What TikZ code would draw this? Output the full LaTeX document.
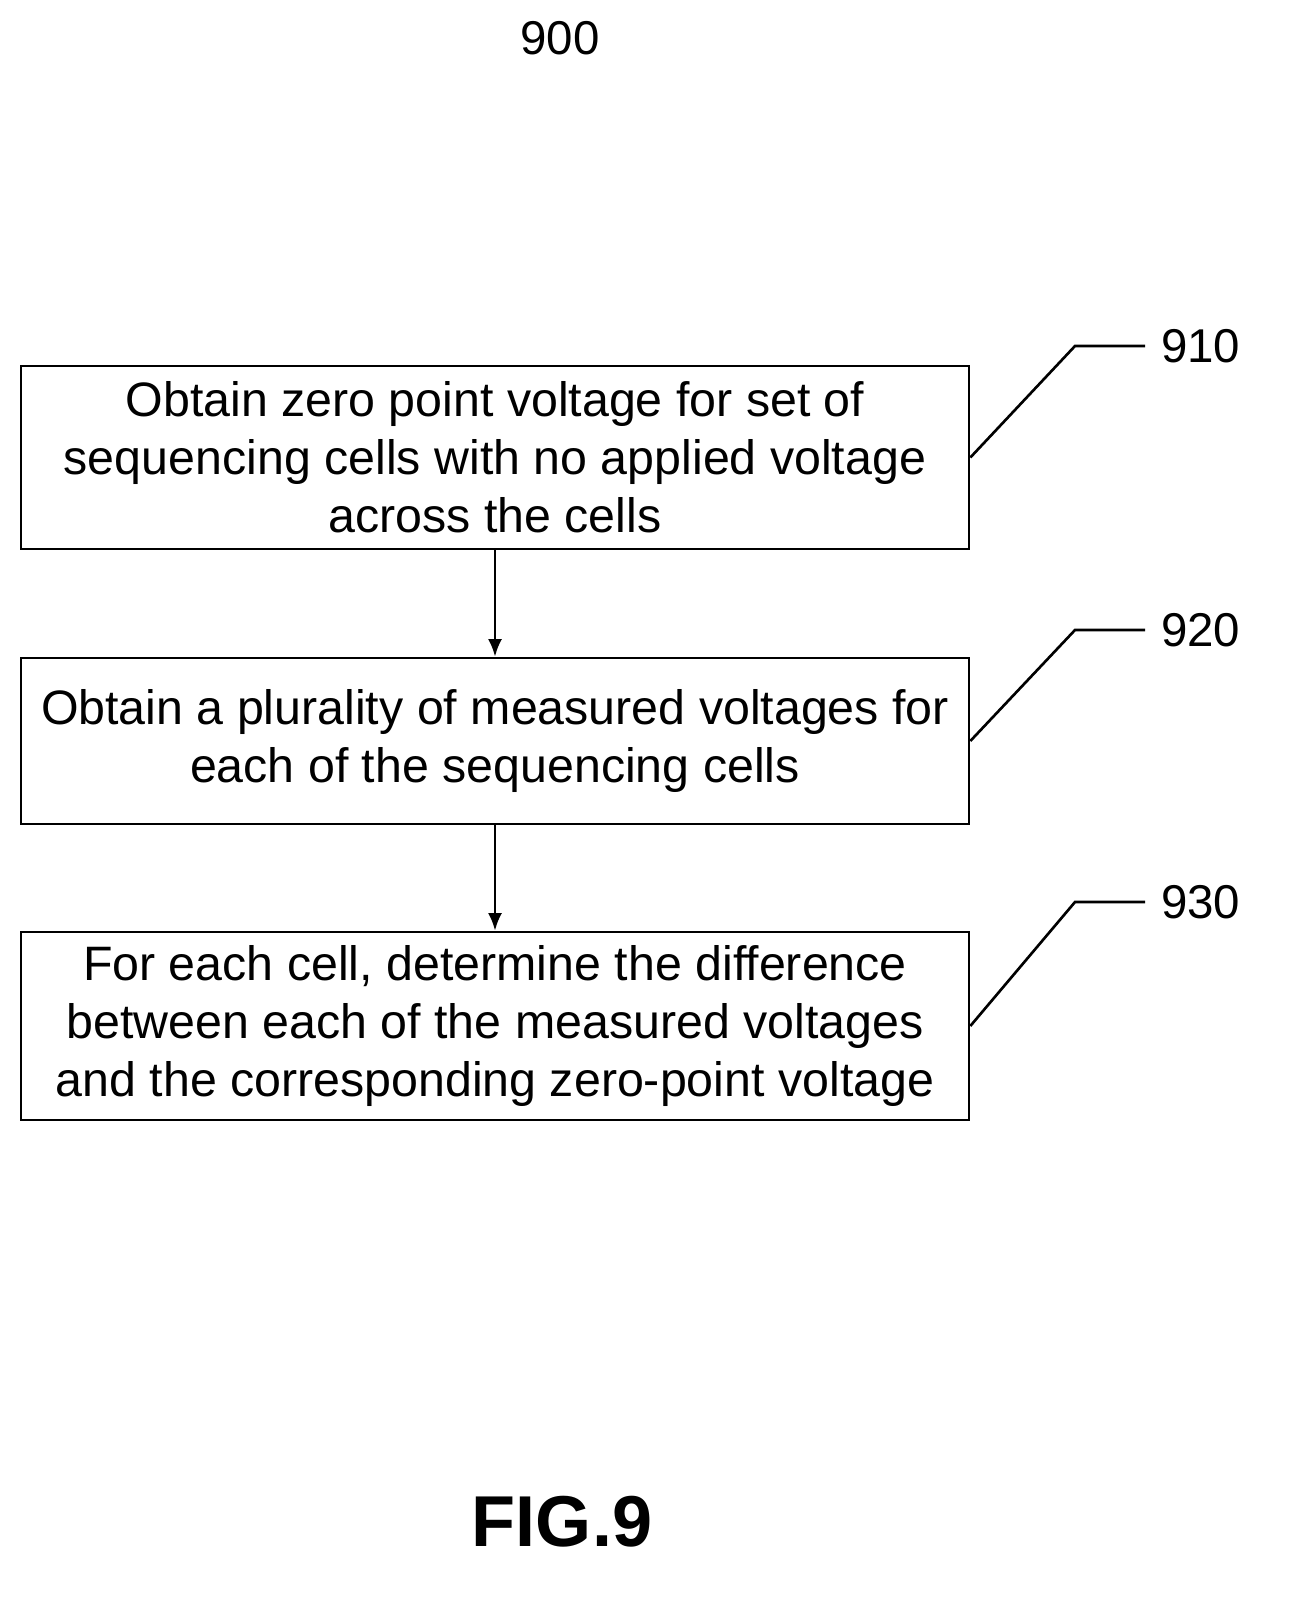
\documentclass[tikz,border=0pt]{standalone}
\usepackage{fontspec}
\setmainfont{Liberation Sans}
\usetikzlibrary{arrows.meta}
\usetikzlibrary{positioning}
\tikzset{>={Latex[length=10pt,width=8pt]}}
\tikzstyle{stepbox} = [rectangle, draw=black, line width=1.5pt, minimum width=18.96cm, align=center, font=\fontsize{27.5}{33}\selectfont, inner sep=0pt]
\tikzstyle{lead} = [-, line width=1.5pt]
\tikzstyle{ref} = [font=\fontsize{27}{32}\selectfont]
\begin{document}
\begin{tikzpicture}
\useasboundingbox (0,0) rectangle (26.04,-32.4);
\node [ref] (N900) at (11.2,-0.76) {900};
\node [stepbox, minimum height=3.66cm] (S1) at (9.9,-9.15) {Obtain zero point voltage for set of\\sequencing cells with no applied voltage\\across the cells};
\node [stepbox, minimum height=3.32cm] (S2) at (9.9,-14.82) {Obtain a plurality of measured voltages for\\each of the sequencing cells};
\node [stepbox, minimum height=3.76cm] (S3) at (9.9,-20.52) {For each cell, determine the difference\\between each of the measured voltages\\and the corresponding zero-point voltage};
\draw [->, line width=1.5pt] (S1) to (S2);
\draw [->, line width=1.5pt] (S2) to (S3);
% reference labels
\coordinate (K1) at (21.5,-6.92);
\coordinate (E1) at (22.9,-6.92);
\node [ref, anchor=west] (R1) at (23.1,-6.92) {910};
\draw [lead] (S1.east) -- (K1) -- (E1);
\coordinate (K2) at (21.5,-12.6);
\coordinate (E2) at (22.9,-12.6);
\node [ref, anchor=west] (R2) at (23.1,-12.6) {920};
\draw [lead] (S2.east) -- (K2) -- (E2);
\coordinate (K3) at (21.5,-18.04);
\coordinate (E3) at (22.9,-18.04);
\node [ref, anchor=west] (R3) at (23.1,-18.04) {930};
\draw [lead] (S3.east) -- (K3) -- (E3);
\node [font=\bfseries\fontsize{41}{48}\selectfont] (FIG) at (11.24,-30.44) {FIG.9};
\end{tikzpicture}
\end{document}
